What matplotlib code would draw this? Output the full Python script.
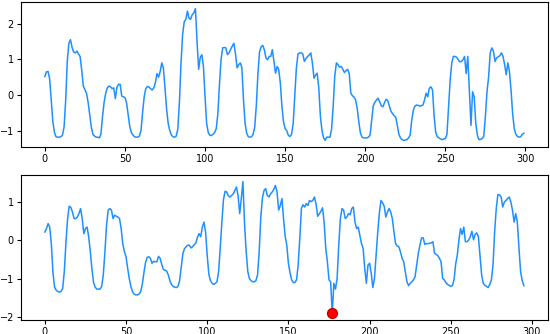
import numpy as np
import matplotlib
matplotlib.use('Agg')
import matplotlib.pyplot as plt

# top series (300 samples)
series_top = [
    0.52, 0.65, 0.66, 0.45, -0.15, -0.75, -1.05, -1.17, -1.18, -1.18,
    -1.17, -1.12, -0.9, -0.15, 0.95, 1.45, 1.55, 1.33, 1.2, 1.18,
    1.23, 1.15, 1.08, 0.7, 0.25, 0.15, 0.05, -0.2, -0.55, -0.9,
    -1.1, -1.15, -1.18, -1.18, -1.2, -1.1, -0.6, -0.2, 0.05, 0.2,
    0.25, 0.23, 0.18, 0.2, -0.1, 0.22, 0.3, 0.3, -0.03, -0.05,
    -0.07, -0.22, -0.55, -0.88, -1.05, -1.12, -1.17, -1.18, -1.18, -1.15,
    -1.0, -0.5, -0.05, 0.18, 0.24, 0.22, 0.18, 0.14, 0.2, 0.35,
    0.6, 0.5, 0.66, 0.9, 0.75, 0.2, -0.4, -0.8, -1.0, -1.12,
    -1.17, -1.18, -1.15, -0.95, -0.2, 0.9, 1.7, 2.05, 2.12, 2.35,
    2.15, 2.12, 2.25, 2.3, 2.42, 1.5, 0.72, 1.05, 1.13, 0.8,
    -0.05, -0.8, -1.05, -1.13, -1.13, -1.1, -1.05, -0.94, -0.52, 0.3,
    1.0, 1.32, 1.33, 1.32, 1.13, 1.18, 1.28, 1.37, 1.45, 1.15,
    0.76, 0.85, 0.9, 0.76, -0.14, -0.8, -1.07, -1.17, -1.18, -1.17,
    -1.1, -0.9, -0.3, 0.6, 1.2, 1.35, 1.39, 1.27, 1.04, 0.99,
    1.08, 1.08, 1.27, 0.94, 0.61, 0.8, 0.71, 0.33, -0.33, -0.76,
    -0.94, -1.0, -1.13, -1.16, -1.1, -0.8, 0.0, 0.75, 1.15, 1.18,
    1.18, 1.15, 0.94, 1.02, 1.08, 1.12, 1.18, 0.9, 0.47, 0.56,
    0.61, 0.2, -0.6, -1.0, -1.2, -1.27, -1.18, -1.18, -1.18, -0.95,
    -0.3, 0.55, 0.9, 0.85, 0.78, 0.8, 0.72, 0.63, 0.68, 0.72,
    0.6, 0.05, -0.02, -0.06, -0.14, -0.38, -0.76, -1.07, -1.18, -1.2,
    -1.2, -1.2, -1.18, -1.12, -0.7, -0.3, -0.2, -0.14, -0.09, -0.19,
    -0.3, -0.33, -0.22, -0.12, -0.15, -0.3, -0.45, -0.52, -0.58, -0.62,
    -0.85, -1.1, -1.2, -1.25, -1.27, -1.26, -1.25, -1.2, -1.13, -0.71,
    -0.43, -0.31, -0.28, -0.29, -0.31, -0.3, -0.28, -0.14, 0.05, -0.05,
    0.19, 0.23, 0.14, -0.6, -1.05, -1.17, -1.2, -1.23, -1.25, -1.23,
    -1.22, -1.1, -0.33, 0.42, 0.9, 1.08, 1.08, 1.06, 0.99, 0.93,
    0.94, 0.99, 1.08, 0.6, 1.08, 0.14, -0.85, 0.09, -0.05, -0.8,
    -1.13, -1.25, -1.24, -1.22, -1.15, -0.6, 0.1, 0.5, 1.18, 1.32,
    1.23, 0.94, 1.04, 1.07, 1.1, 1.18, 1.08, 0.85, 0.57, 0.9,
    0.66, 0.14, -0.52, -0.94, -1.1, -1.16, -1.18, -1.17, -1.1, -1.07,
]

# bottom series (296 samples)
series_bot = [
    0.21, 0.3, 0.43, 0.34, -0.1, -0.85, -1.22, -1.3, -1.33, -1.35,
    -1.33, -1.25, -0.8, -0.05, 0.55, 0.88, 0.85, 0.73, 0.56, 0.56,
    0.6, 0.69, 0.82, 0.56, 0.17, 0.3, 0.34, 0.09, -0.3, -0.75,
    -1.1, -1.22, -1.27, -1.27, -1.27, -1.2, -0.9, -0.3, 0.39, 0.78,
    0.82, 0.78, 0.56, 0.65, 0.62, 0.6, 0.56, 0.3, -0.1, -0.3,
    -0.43, -0.73, -1.0, -1.2, -1.34, -1.4, -1.42, -1.42, -1.4, -1.34,
    -1.15, -0.85, -0.58, -0.45, -0.43, -0.47, -0.6, -0.55, -0.56, -0.56,
    -0.42, -0.47, -0.63, -0.76, -0.78, -0.8, -0.9, -1.05, -1.15, -1.2,
    -1.22, -1.23, -1.2, -1.05, -0.7, -0.35, -0.22, -0.17, -0.13, -0.13,
    -0.2, -0.17, -0.12, -0.07, 0.08, 0.17, 0.09, 0.34, 0.47, 0.21,
    -0.4, -0.88, -1.05, -1.12, -1.15, -1.12, -1.08, -0.82, -0.21, 0.45,
    1.05, 1.27, 1.25, 1.15, 1.12, 1.16, 1.2, 1.29, 1.38, 1.16,
    0.69, 1.08, 1.52, 0.4, -0.3, -0.82, -1.0, -1.05, -1.08, -1.08,
    -1.05, -0.9, -0.3, 0.6, 1.1, 1.29, 1.34, 1.16, 1.12, 1.2,
    1.25, 1.32, 1.42, 1.25, 0.78, 0.9, 1.08, 0.56, 0.1, -0.13,
    -0.6, -0.85, -1.03, -1.1, -1.1, -1.03, -0.65, 0.04, 0.82, 0.92,
    0.86, 0.95, 0.9, 1.03, 1.0, 1.03, 1.12, 0.95, 0.62, 0.68,
    0.75, 0.84, 0.47, -0.21, -0.56, -1.03, -1.08, -1.9, -1.12, -1.27,
    -0.99, -0.13, 0.56, 0.82, 0.78, 0.56, 0.6, 0.69, 0.66, 0.82,
    0.86, 0.47, 0.3, 0.34, 0.13, -0.09, -0.21, -0.73, -1.12, -0.65,
    -0.6, -0.86, -1.23, -0.99, -0.39, 0.2, 0.7, 1.03, 0.97, 0.88,
    0.6, 0.73, 0.82, 0.73, 0.56, 0.21, -0.09, -0.15, -0.17, -0.3,
    -0.47, -0.56, -0.82, -1.08, -1.18, -1.12, -1.08, -1.03, -0.95, -0.65,
    -0.34, -0.13, 0.06, 0.06, -0.11, -0.09, -0.09, -0.08, -0.07, -0.04,
    -0.34, -0.37, -0.4, -0.47, -0.56, -0.99, -1.03, -1.1, -1.15, -1.17,
    -1.2, -1.18, -1.03, -0.62, -0.39, 0.0, 0.3, 0.15, 0.34, -0.04,
    -0.04, 0.0, 0.09, 0.23, 0.01, 0.15, 0.19, 0.09, -0.39, -0.9,
    -1.12, -1.17, -1.2, -1.23, -1.15, -1.03, -0.65, 0.21, 0.82, 1.18,
    1.18, 1.12, 0.86, 0.99, 1.03, 1.08, 1.12, 0.99, 0.78, 0.47,
    0.69, 0.47, -0.21, -0.82, -1.05, -1.18,
]

# highlighted anomaly in bottom series
anomaly_idx = [177]

line_color = '#1E90FF'

fig = plt.figure(figsize=(5.5, 3.34), dpi=100)
ax1 = fig.add_axes([0.038, 0.56, 0.958, 0.434])
ax2 = fig.add_axes([0.038, 0.042, 0.958, 0.434])

ax1.plot(np.arange(len(series_top)), series_top, color=line_color, lw=1.1)
ax2.plot(np.arange(len(series_bot)), series_bot, color=line_color, lw=1.1)
ax2.scatter(anomaly_idx, [series_bot[i] for i in anomaly_idx],
            color='red', edgecolor='#c00000', s=50, zorder=3)

for ax in (ax1, ax2):
    ax.tick_params(labelsize=7, length=3, pad=2)
    ax.set_xticks([0, 50, 100, 150, 200, 250, 300])

ax1.set_yticks([-1, 0, 1, 2])
ax2.set_yticks([-2, -1, 0, 1])

fig.savefig('out.png', dpi=100)
